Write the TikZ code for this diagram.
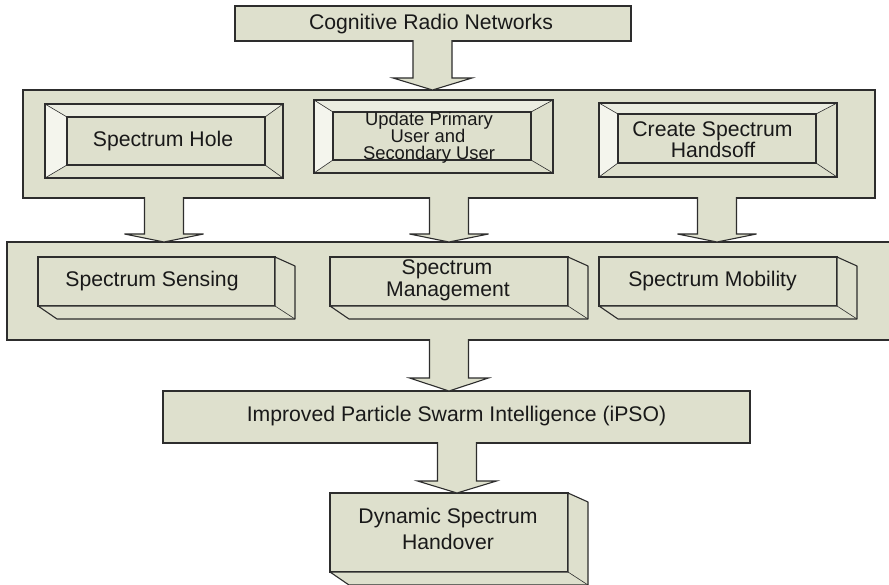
\documentclass[tikz,border=0pt]{standalone}
\usepackage{fontspec}
\setmainfont{Liberation Sans}
\usetikzlibrary{calc}
\definecolor{fillc}{RGB}{222,224,205}
\definecolor{litec}{RGB}{244,245,237}
\definecolor{topc}{RGB}{235,237,225}
\definecolor{edgec}{RGB}{45,45,45}
\definecolor{txtc}{RGB}{25,25,25}
\tikzset{
  panel/.style={draw=edgec, fill=fillc, line width=1.1pt, inner sep=0pt, outer sep=0pt},
  inbox/.style={fill=fillc, inner sep=0pt, outer sep=0pt},
  lbl/.style={anchor=base, inner sep=0pt, outer sep=0pt, text=txtc, font=\fontsize{21.2}{21.2}\selectfont},
  lbls/.style={lbl, font=\fontsize{18.4}{18.4}\selectfont},
  edgeline/.style={draw=edgec, line width=1.1pt},
  thinline/.style={draw=edgec, line width=0.6pt},
  barrow/.style={fill=fillc, draw=edgec, line width=1.1pt, line join=miter},
}
\newcommand\bevelbox[2]{%
  \fill[litec] (#1.north west) -- (#2.north west) -- (#2.south west) -- (#1.south west) -- cycle;
  \fill[topc] (#1.north west) -- (#1.north east) -- (#2.north east) -- (#2.north west) -- cycle;
  \draw[thinline] (#1.north west) -- (#2.north west) (#1.north east) -- (#2.north east)
     (#1.south west) -- (#2.south west) (#1.south east) -- (#2.south east);
  \draw[edgeline] (#2.north west) rectangle (#2.south east);
  \draw[edgeline] (#1.north west) rectangle (#1.south east);
}
\newcommand\solidbox[1]{%
  \filldraw[fill=fillc, draw=edgec, line width=1.1pt, line join=round]
    (#1.north east) -- ($(#1.north east)+(20,9)$) -- ($(#1.south east)+(20,13)$)
    -- ($(#1.south west)+(19,13)$) -- (#1.south west) -- (#1.south east) -- cycle;
  \draw[thinline] (#1.south east) -- ($(#1.south east)+(20,13)$);
}
\newcommand\blockarr[4]{%
  \filldraw[barrow] let \p1=(#1.south), \p2=(#2.north) in
    ({#3pt-19.5pt},{\y1+0.8pt}) -- ({#3pt-19.5pt},{\y2+#4pt}) -- ({#3pt-39.5pt},{\y2+#4pt})
    -- ({#3pt},{\y2}) -- ({#3pt+39.5pt},{\y2+#4pt}) -- ({#3pt+19.5pt},{\y2+#4pt})
    -- ({#3pt+19.5pt},{\y1+0.8pt});
}
\begin{document}
\begin{tikzpicture}[x=1pt,y=-1pt]
\fill[white] (0,0) rectangle (889,585);
\useasboundingbox (0,0) rectangle (889,585);
% bands
\node[panel, minimum width=396pt, minimum height=35pt] (cog) at (433,23.5) {};
\node[panel, minimum width=852pt, minimum height=108pt] (band1) at (449,144) {};
\node[panel, minimum width=888pt, minimum height=98pt] (band2) at (451,291) {};
\node[panel, minimum width=587pt, minimum height=52pt] (ipso) at (456.5,417) {};
% bevel boxes
\node[panel, minimum width=238pt, minimum height=74pt] (hole) at (164,141) {};
\node[inbox, minimum width=198pt, minimum height=48pt] (holein) at (166,141) {};
\bevelbox{hole}{holein}
\node[panel, minimum width=239pt, minimum height=73pt] (upd) at (433.5,136.5) {};
\node[inbox, minimum width=198pt, minimum height=48pt] (updin) at (432,136) {};
\bevelbox{upd}{updin}
\node[panel, minimum width=238pt, minimum height=74pt] (cre) at (718,140) {};
\node[inbox, minimum width=198pt, minimum height=49pt] (crein) at (717,138.5) {};
\bevelbox{cre}{crein}
% solid boxes
\node[panel, minimum width=237pt, minimum height=49pt] (sens) at (156.5,281.5) {};
\solidbox{sens}
\node[panel, minimum width=238pt, minimum height=49pt] (mgmt) at (449,281.5) {};
\solidbox{mgmt}
\node[panel, minimum width=238pt, minimum height=49pt] (mob) at (718,281.5) {};
\solidbox{mob}
\node[panel, minimum width=238pt, minimum height=79pt] (dyn) at (449,532.5) {};
\solidbox{dyn}
% block arrows
\blockarr{cog}{band1}{432.5}{12}
\blockarr{band1}{band2}{164}{8}
\blockarr{band1}{band2}{449}{8}
\blockarr{band1}{band2}{717}{8}
\blockarr{band2}{ipso}{449}{13}
\blockarr{ipso}{dyn}{457}{12}
% labels
\node[lbl] (tcog) at (431,30) {Cognitive Radio Networks};
\node[lbl] (thole) at (163,147) {Spectrum Hole};
\node[lbls] (tupd1) at (429,125.5) {Update Primary};
\node[lbls] (tupd2) at (428,142.7) {User and};
\node[lbls] (tupd3) at (429,160) {Secondary User};
\node[lbl] (tcre1) at (712.5,137) {Create Spectrum};
\node[lbl] (tcre2) at (713,158) {Handsoff};
\node[lbl] (tsens) at (152,287) {Spectrum Sensing};
\node[lbl] (tmg1) at (447,275) {Spectrum};
\node[lbl] (tmg2) at (448,297) {Management};
\node[lbl] (tmob) at (712.5,287) {Spectrum Mobility};
\node[lbl] (tipso) at (456.5,421) {Improved Particle Swarm Intelligence (iPSO)};
\node[lbl] (tdyn1) at (448,523) {Dynamic Spectrum};
\node[lbl] (tdyn2) at (448,549) {Handover};
\end{tikzpicture}
\end{document}
